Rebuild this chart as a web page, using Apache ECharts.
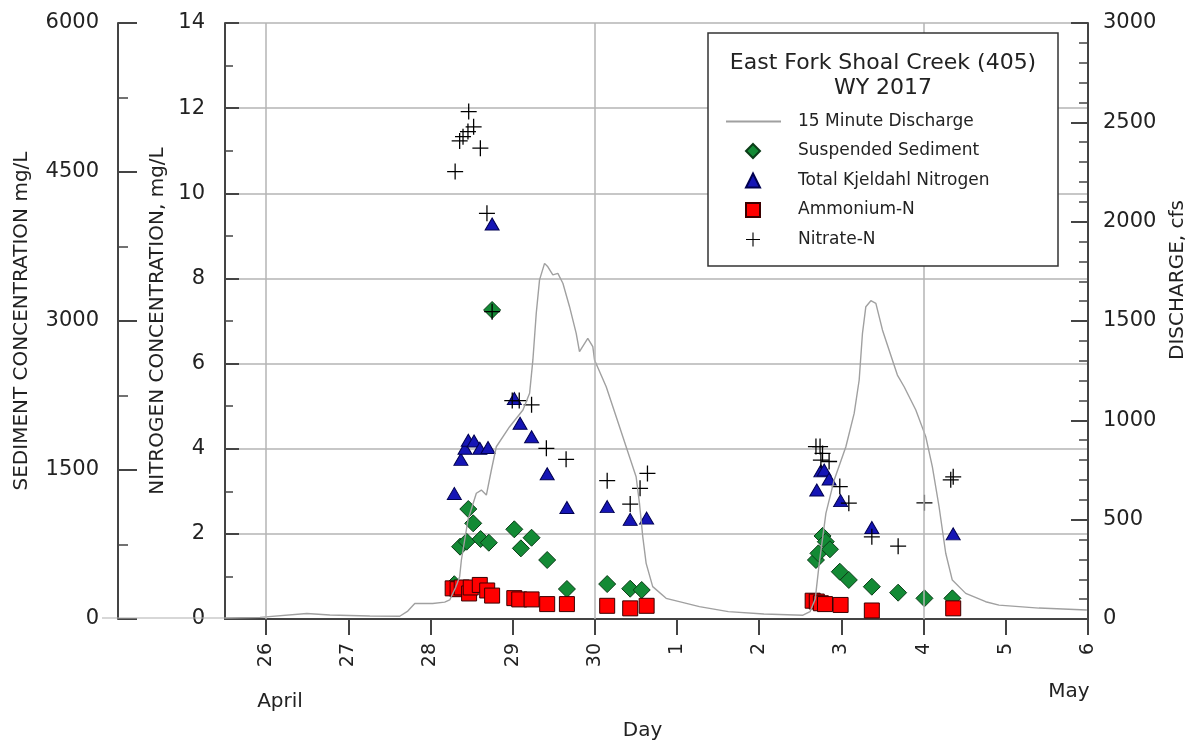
<!DOCTYPE html>
<html>
<head>
<meta charset="utf-8">
<script src="https://cdn.jsdelivr.net/npm/echarts@6/dist/echarts.min.js"></script>
<style>html,body{margin:0;padding:0;background:#fff}#c{width:1198px;height:746px}</style>
</head>
<body>
<div id="c"></div>
<script>
// Day axis: Apr 26 = 26 ... Apr 30 = 30, May 1 = 31 ... May 6 = 36
const dayTicks = [26, 27, 28, 29, 30, 31, 32, 33, 34, 35, 36];
const gridDays = [26, 30, 34];
const monthLabels = ['April', 'May'];

const discharge = [
  [25.5, 5], [25.925, 8], [26.496, 28], [26.776, 20], [27.262, 15], [27.626, 14],
  [27.724, 40], [27.809, 78], [28.027, 78], [28.173, 85], [28.234, 96], [28.307, 160],
  [28.355, 213], [28.376, 297], [28.456, 498], [28.558, 633], [28.619, 649], [28.680, 624],
  [28.741, 750], [28.801, 867], [28.963, 968], [29.125, 1052], [29.206, 1136], [29.246, 1304],
  [29.287, 1539], [29.327, 1707], [29.388, 1790], [29.428, 1773], [29.489, 1732], [29.550, 1740],
  [29.611, 1690], [29.692, 1572], [29.773, 1438], [29.813, 1346], [29.914, 1413], [29.975, 1371],
  [29.996, 1304], [30.138, 1169], [30.300, 968], [30.421, 817], [30.502, 716], [30.543, 582],
  [30.583, 414], [30.624, 280], [30.704, 163], [30.867, 104], [31.272, 62], [31.624, 37],
  [32.057, 25], [32.532, 19], [32.618, 37], [32.681, 100], [32.730, 280], [32.811, 532],
  [32.912, 700], [33.054, 867], [33.155, 1035], [33.216, 1203], [33.256, 1438], [33.297, 1572],
  [33.358, 1602], [33.419, 1589], [33.499, 1455], [33.620, 1304], [33.681, 1228], [33.763, 1169],
  [33.905, 1052], [34.026, 918], [34.106, 767], [34.188, 565], [34.269, 331], [34.349, 196],
  [34.512, 129], [34.755, 87], [34.917, 70], [35.403, 55], [35.986, 45]
];

const sediment = [
  [28.29, 350], [28.36, 728], [28.44, 778], [28.46, 1107], [28.52, 963], [28.61, 805],
  [28.71, 768], [28.75, 3111], [29.02, 903], [29.10, 711], [29.23, 818], [29.42, 594],
  [29.66, 302], [30.15, 352], [30.43, 305], [30.57, 292], [32.69, 594], [32.72, 661],
  [32.77, 836], [32.81, 778], [32.86, 702], [32.98, 476], [33.09, 393], [33.37, 325],
  [33.69, 265], [34.01, 208], [34.35, 208]
];

const tkn = [
  [28.29, 2.95], [28.37, 3.75], [28.42, 4.01], [28.46, 4.20], [28.53, 4.18], [28.60, 4.01],
  [28.70, 4.03], [28.75, 9.28], [29.02, 5.18], [29.09, 4.60], [29.23, 4.28], [29.42, 3.41],
  [29.66, 2.62], [30.15, 2.64], [30.43, 2.34], [30.63, 2.37], [32.70, 3.03], [32.75, 3.48],
  [32.79, 3.50], [32.85, 3.29], [32.99, 2.78], [33.37, 2.15], [34.36, 2.00]
];

const ammonium = [
  [28.27, 0.72], [28.33, 0.70], [28.38, 0.74], [28.47, 0.60], [28.49, 0.74], [28.60, 0.80],
  [28.69, 0.67], [28.75, 0.55], [29.02, 0.49], [29.08, 0.46], [29.23, 0.46], [29.42, 0.35],
  [29.66, 0.35], [30.15, 0.31], [30.43, 0.25], [30.63, 0.31], [32.65, 0.43], [32.70, 0.41],
  [32.75, 0.37], [32.80, 0.35], [32.99, 0.33], [33.37, 0.20], [34.36, 0.25]
];

const nitrate = [
  [28.30, 10.51], [28.355, 11.23], [28.396, 11.33], [28.456, 11.45], [28.465, 11.92], [28.525, 11.56],
  [28.607, 11.06], [28.687, 9.53], [28.75, 7.22], [28.995, 5.13], [29.08, 5.13], [29.23, 5.03],
  [29.41, 4.01], [29.65, 3.75], [30.15, 3.25], [30.43, 2.70], [30.55, 3.07], [30.64, 3.42],
  [32.69, 4.05], [32.74, 4.05], [32.77, 3.89], [32.75, 3.73], [32.85, 3.70], [32.98, 3.11],
  [33.09, 2.72], [33.37, 1.93], [33.69, 1.71], [34.01, 2.73], [34.33, 3.27], [34.36, 3.34]
];

const FONT = 'DejaVu Sans';
const AX = '#444';
const TXT = '#222';
const crossPath = 'path://M9.2,0H10.8V9.2H20V10.8H10.8V20H9.2V10.8H0V9.2H9.2Z';
const plain = v => String(v);

const chart = echarts.init(document.getElementById('c'), null, {renderer: 'canvas'});
chart.setOption({
  animation: false,
  backgroundColor: '#fff',
  grid: {left: 225, right: 110, top: 23, bottom: 127, containLabel: false},
  xAxis: [{
    type: 'value', min: 25.5, max: 36, position: 'bottom',
    axisLine: {show: true, lineStyle: {color: AX, width: 2}},
    axisTick: {show: true, customValues: dayTicks, length: 16, inside: false, lineStyle: {color: AX, width: 2}},
    axisLabel: {customValues: dayTicks, rotate: 90, margin: 24, fontSize: 19, fontFamily: FONT, color: TXT,
      formatter: v => String(v > 30 ? v - 30 : v)},
    splitLine: {show: false},
    name: 'Day', nameLocation: 'middle', nameGap: 102,
    nameTextStyle: {fontSize: 20, fontFamily: FONT, color: TXT, padding: [0, 28, 0, 0]}
  }, {
    type: 'value', min: 25.5, max: 36, position: 'top',
    axisLine: {show: true, lineStyle: {color: AX, width: 2}},
    axisTick: {show: false}, axisLabel: {show: false}, splitLine: {show: false}
  }],
  yAxis: [{
    type: 'value', min: 0, max: 14, interval: 2, position: 'left',
    axisLine: {show: true, lineStyle: {color: AX, width: 2}},
    axisTick: {show: true, inside: true, length: 14, lineStyle: {color: AX, width: 2}},
    minorTick: {show: true, splitNumber: 2, length: 8, lineStyle: {color: AX, width: 1.5}},
    axisLabel: {margin: 20, fontSize: 21, fontFamily: FONT, color: TXT, formatter: plain},
    splitLine: {show: true, lineStyle: {color: '#b4b4b4', width: 1.5}},
    name: 'NITROGEN CONCENTRATION, mg/L', nameLocation: 'middle', nameGap: 52, nameRotate: 90,
    nameTextStyle: {fontSize: 20, fontFamily: FONT, color: TXT}
  }, {
    type: 'value', min: 0, max: 3000, interval: 500, position: 'right',
    axisLine: {show: true, lineStyle: {color: AX, width: 2}},
    axisTick: {show: true, inside: true, length: 17, lineStyle: {color: AX, width: 2}},
    minorTick: {show: true, splitNumber: 5, length: 9, lineStyle: {color: AX, width: 1.5}},
    axisLabel: {margin: 15, fontSize: 21, fontFamily: FONT, color: TXT, formatter: plain},
    splitLine: {show: false},
    name: 'DISCHARGE, cfs', nameLocation: 'middle', nameGap: 79, nameRotate: 90,
    nameTextStyle: {fontSize: 20, fontFamily: FONT, color: TXT, padding: [0, 0, 0, 82]}
  }, {
    type: 'value', min: 0, max: 6000, interval: 1500, position: 'left', offset: 107,
    axisLine: {show: true, lineStyle: {color: AX, width: 2}},
    axisTick: {show: true, inside: true, length: 19, lineStyle: {color: AX, width: 2}},
    minorTick: {show: true, splitNumber: 2, length: 10, lineStyle: {color: AX, width: 1.5}},
    axisLabel: {margin: 19, fontSize: 21, fontFamily: FONT, color: TXT, formatter: plain},
    splitLine: {show: false},
    name: 'SEDIMENT CONCENTRATION mg/L', nameLocation: 'middle', nameGap: 86, nameRotate: 90,
    nameTextStyle: {fontSize: 20, fontFamily: FONT, color: TXT}
  }],
  legend: [{
    orient: 'vertical', left: 725, top: 113, padding: 0, z: 20,
    itemWidth: 55, itemHeight: 14, selectedMode: false,
    itemStyle: {opacity: 0},
    textStyle: {fontSize: 17, fontFamily: FONT, color: TXT, padding: [0, 0, 0, 12]},
    data: ['15 Minute Discharge']
  }, {
    orient: 'vertical', left: 745, top: 142.5, padding: 0, z: 20,
    itemWidth: 14, itemHeight: 14, itemGap: 12.5, selectedMode: false,
    textStyle: {fontSize: 17, fontFamily: FONT, color: TXT, padding: [0, 0, 0, 33]},
    data: ['Suspended Sediment', 'Total Kjeldahl Nitrogen', 'Ammonium-N', 'Nitrate-N']
  }],
  graphic: [
    {type: 'line', z: 1, shape: {x1: 102, y1: 618, x2: 225, y2: 618},
      style: {stroke: '#b0b0b0', lineWidth: 1.2}},
    {type: 'rect', z: 10, shape: {x: 708, y: 33, width: 350, height: 233},
      style: {fill: '#fff', stroke: '#333', lineWidth: 1.5}},
    {type: 'text', z: 21, x: 883, y: 63,
      style: {text: 'East Fork Shoal Creek (405)', fontSize: 22, fontFamily: FONT, fill: TXT, align: 'center', verticalAlign: 'middle'}},
    {type: 'text', z: 21, x: 883, y: 88,
      style: {text: 'WY 2017', fontSize: 22, fontFamily: FONT, fill: TXT, align: 'center', verticalAlign: 'middle'}},
    {type: 'text', z: 21, x: 280, y: 702,
      style: {text: monthLabels[0], fontSize: 20, fontFamily: FONT, fill: TXT, align: 'center', verticalAlign: 'middle'}},
    {type: 'text', z: 21, x: 1069, y: 692,
      style: {text: monthLabels[1], fontSize: 20, fontFamily: FONT, fill: TXT, align: 'center', verticalAlign: 'middle'}}
  ],
  series: [{
    name: '15 Minute Discharge', type: 'line', xAxisIndex: 0, yAxisIndex: 1,
    data: discharge, showSymbol: false, symbol: 'none', smooth: false,
    lineStyle: {color: '#a0a0a0', width: 1.4}, itemStyle: {color: '#a0a0a0'},
    markLine: {silent: true, symbol: ['none', 'none'], label: {show: false},
      lineStyle: {color: '#b4b4b4', width: 1.5, type: 'solid'},
      data: gridDays.map(d => ({xAxis: d}))}
  }, {
    name: 'Suspended Sediment', type: 'scatter', xAxisIndex: 0, yAxisIndex: 2,
    data: sediment, symbol: 'diamond', symbolSize: 17,
    itemStyle: {color: '#138a35', borderColor: '#0b3d18', borderWidth: 1, opacity: 1}
  }, {
    name: 'Total Kjeldahl Nitrogen', type: 'scatter', xAxisIndex: 0, yAxisIndex: 0,
    data: tkn, symbol: 'triangle', symbolSize: [14, 12],
    itemStyle: {color: '#1515b5', borderColor: '#000050', borderWidth: 1, opacity: 1}
  }, {
    name: 'Ammonium-N', type: 'scatter', xAxisIndex: 0, yAxisIndex: 0,
    data: ammonium, symbol: 'rect', symbolSize: 15,
    itemStyle: {color: '#ff0000', borderColor: '#3a0000', borderWidth: 1, opacity: 1}
  }, {
    name: 'Nitrate-N', type: 'scatter', xAxisIndex: 0, yAxisIndex: 0,
    data: nitrate, symbol: crossPath, symbolSize: 16,
    itemStyle: {color: '#000', borderWidth: 0, opacity: 1}
  }]
});
</script>
</body>
</html>
